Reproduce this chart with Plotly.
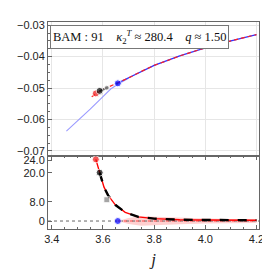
import plotly.graph_objects as go
from plotly.subplots import make_subplots

# ---- data ----
main_x = [3.556, 3.572, 3.587, 3.62, 3.658, 3.70, 3.75, 3.80, 3.90, 4.00, 4.10, 4.20]
main_y = [-0.0528, -0.0518, -0.0510, -0.0497, -0.0484, -0.0468, -0.0447, -0.0428, -0.0398, -0.0372, -0.0350, -0.0330]
blue_x = [3.658, 3.70, 3.75, 3.80, 3.90, 4.00, 4.10, 4.20]
blue_y = [-0.0484, -0.0468, -0.0447, -0.0428, -0.0398, -0.0372, -0.0350, -0.0330]
lav_x = [3.457, 3.50, 3.55, 3.60, 3.63, 3.658, 3.68, 3.70]
lav_y = [-0.0637, -0.0605, -0.0567, -0.0527, -0.0503, -0.0488, -0.0477, -0.0469]
blk_top_x = [3.587, 3.62, 3.658]
blk_top_y = [-0.0510, -0.0497, -0.0484]

dots_x = [3.572, 3.587, 3.615, 3.658]
dots_top = [-0.0517, -0.0509, -0.0499, -0.0485]
dots_bot = [25.5, 20.0, 8.8, 0.0]
dots_col = ["#ee1111", "#000000", "#808080", "#0000ff"]

red_x = [3.572, 3.587, 3.604, 3.62, 3.649, 3.687, 3.738, 3.80, 3.90, 4.00, 4.10, 4.20]
red_y = [25.5, 20.0, 14.0, 10.6, 6.6, 3.6, 1.7, 1.0, 0.55, 0.42, 0.36, 0.33]
blk_x = red_x[1:]
blk_y = red_y[1:]

band_x = [3.658, 3.70, 3.75, 3.80, 3.90, 4.00, 4.10, 4.20]
band_hw = [0.0, 1.2, 2.0, 1.8, 1.3, 1.0, 0.85, 0.8]

y2_ticks = [0, 8, 20, 25.2]
y2_text = ["0", "8.0", "20.0", "24.0"]
x_ticks = [3.4, 3.6, 3.8, 4.0, 4.2]
x_text = ["3.4", "3.6", "3.8", "4.0", "4.2"]

fig = make_subplots(rows=2, cols=1, shared_xaxes=True, vertical_spacing=0,
                    row_heights=[0.6473, 0.3527])

# ---- top panel ----
fig.add_trace(go.Scatter(x=lav_x, y=lav_y, mode="lines", line=dict(color="#9a9aff", width=1.1)), 1, 1)
fig.add_trace(go.Scatter(x=blue_x, y=blue_y, mode="lines", line=dict(color="#3333ff", width=1.3)), 1, 1)
fig.add_trace(go.Scatter(x=main_x, y=main_y, mode="lines", line=dict(color="#ff2020", width=1.2, dash="4px,3px")), 1, 1)
fig.add_trace(go.Scatter(x=blk_top_x, y=blk_top_y, mode="lines", line=dict(color="#555555", width=2, dash="dash")), 1, 1)
fig.add_trace(go.Scatter(x=dots_x, y=dots_top, mode="markers",
                         marker=dict(color=dots_col, size=[7, 7, 5, 7])), 1, 1)

# ---- bottom panel ----
upper = [0 + h for h in band_hw]
lower = [0 - h for h in band_hw]
fig.add_trace(go.Scatter(x=band_x + band_x[::-1], y=upper + lower[::-1], fill="toself",
                         fillcolor="rgba(255,120,120,0.35)", line=dict(width=0), mode="lines"), 2, 1)
fig.add_trace(go.Scatter(x=[3.385, 4.21], y=[0, 0], mode="lines",
                         line=dict(color="#666666", width=1, dash="dot")), 2, 1)
fig.add_trace(go.Scatter(x=band_x, y=[0] * len(band_x), mode="lines",
                         line=dict(color="#ff4040", width=1.2, dash="dot")), 2, 1)
fig.add_trace(go.Scatter(x=red_x, y=red_y, mode="lines", line=dict(color="#ff0000", width=1.4)), 2, 1)
fig.add_trace(go.Scatter(x=blk_x, y=blk_y, mode="lines", line=dict(color="#000000", width=2.4, dash="dash")), 2, 1)
fig.add_trace(go.Scatter(x=dots_x, y=dots_bot, mode="markers",
                         marker=dict(color=dots_col, size=[7, 7, 6, 7], symbol=["circle", "circle", "square", "circle"])), 2, 1)

axis_common = dict(showline=True, linecolor="#666666", linewidth=1, mirror=True,
                   ticks="inside", ticklen=4, tickcolor="#666666",
                   tickfont=dict(family="Liberation Sans, Arial", size=11, color="#222222"),
                   zeroline=False)

fig.update_xaxes(range=[3.385, 4.21], **axis_common)
fig.update_xaxes(row=1, col=1, showgrid=True, gridcolor="#e6e6e6", dtick=0.2, tick0=3.4,
                 showticklabels=False, ticks="", mirror=True)
fig.update_xaxes(row=2, col=1, showgrid=False, tickvals=x_ticks, ticktext=x_text, mirror="allticks",
                 ticklabeloverflow="allow",
                 minor=dict(ticks="inside", ticklen=2, dtick=0.05, tick0=3.4, tickcolor="#666666"),
                 title=dict(text="<i>j</i>", font=dict(family="Liberation Serif, Times New Roman", size=17, color="#222"),
                            standoff=8))
fig.update_yaxes(row=1, col=1, range=[-0.0716, -0.0290], dtick=0.01, tick0=-0.03, tickformat=".2f",
                 showgrid=True, gridcolor="#e6e6e6",
                 minor=dict(ticks="inside", ticklen=2, dtick=0.0025, tickcolor="#666666"), **axis_common)
fig.update_yaxes(row=2, col=1, range=[-3.3, 26.9], tickvals=y2_ticks, ticktext=y2_text,
                 showgrid=False, **axis_common)

fig.add_annotation(xref="paper", yref="paper", x=0.009, y=0.985, xanchor="left", yanchor="top",
                   text="BAM : 91&nbsp;&nbsp;&nbsp;&nbsp;<i>κ</i><sub>2</sub><sup><i>T</i></sup> ≈ 280.4&nbsp;&nbsp;&nbsp;&nbsp;<i>q</i> ≈ 1.50",
                   showarrow=False, bgcolor="white", bordercolor="#777777", borderwidth=1, borderpad=2,
                   font=dict(family="Liberation Serif, Times New Roman", size=12.5, color="#111"))

# page body has an 8px margin, so the figure is sized to fit the 270x274 window
fig.update_layout(width=262, height=266, margin=dict(l=40, r=6, t=14, b=45),
                  plot_bgcolor="white", paper_bgcolor="white", showlegend=False)

fig.write_html("out.html")
